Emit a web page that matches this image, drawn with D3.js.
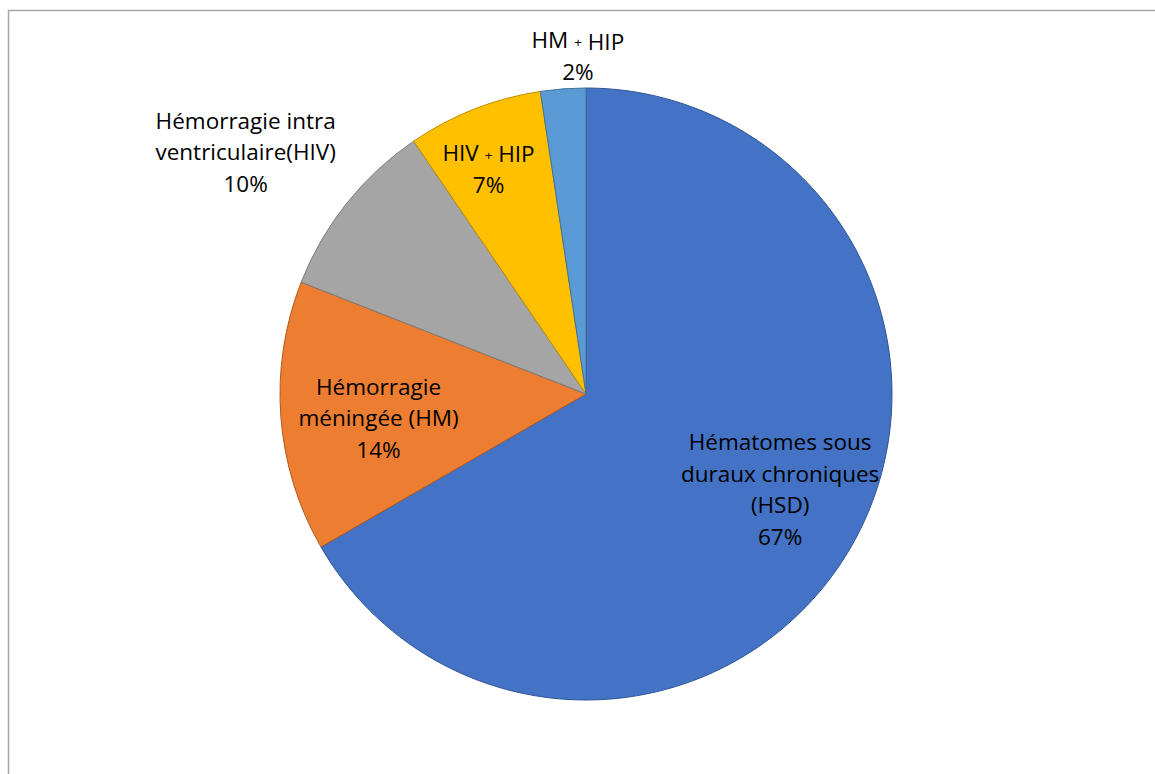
<!DOCTYPE html>
<html>
<head>
<meta charset="utf-8">
<script src="https://cdn.jsdelivr.net/npm/d3@7"></script>
<style>
  html, body { margin: 0; padding: 0; background: #fff; }
  svg { display: block; }
</style>
</head>
<body>
<svg id="chart" width="1155" height="774"></svg>
<script>
// Hemorrhage types (case counts)
const categories = [
  "Hématomes sous duraux chroniques (HSD)",
  "Hémorragie méningée (HM)",
  "Hémorragie intra ventriculaire(HIV)",
  "HIV + HIP",
  "HM + HIP"
];
const counts = [28, 6, 4, 3, 1];
// Label text, one array of lines per slice
const labelLines = [
  ["Hématomes sous", "duraux chroniques", "(HSD)"],
  ["Hémorragie", "méningée (HM)"],
  ["Hémorragie intra", "ventriculaire(HIV)"],
  ["HIV + HIP"],
  ["HM + HIP"]
];

const fills   = ["#4472C4", "#ED7D31", "#A5A5A5", "#FFC000", "#5B9BD5"];
const strokes = ["#2F5597", "#AE5A21", "#7B7B7B", "#BC8C00", "#41719C"];

// label placement: radius factor and pixel nudge per slice
const labelLayout = [
  { k: 0.71, dx: 6,   dy: -13 },
  { k: 0.68, dx: 0,   dy: 9 },
  { k: 1.36, dx: -15, dy: 18 },
  { k: 0.80, dx: -8,  dy: 3 },
  { k: 1.10, dx: 17,  dy: -2 }
];

const svg = d3.select("#chart");
const cx = 586, cy = 394, r = 306;

// chart frame (partly cut off by the page edges)
svg.append("rect")
  .attr("x", 8.5).attr("y", 10.5)
  .attr("width", 1300).attr("height", 900)
  .attr("fill", "none")
  .attr("stroke", "#A6A6A6")
  .attr("stroke-width", 1.5);

const total = d3.sum(counts);
const pie = d3.pie().sort(null).value(d => d);
const arcs = pie(counts);
const arc = d3.arc().innerRadius(0).outerRadius(r);

const g = svg.append("g").attr("transform", `translate(${cx},${cy})`);

g.selectAll("path.slice")
  .data(arcs)
  .join("path")
  .attr("class", "slice")
  .attr("d", arc)
  .attr("fill", (d, i) => fills[i])
  .attr("stroke", (d, i) => strokes[i])
  .attr("stroke-width", 1)
  .attr("stroke-linejoin", "round");

const fontSize = 22.5;
const lineH = 31.5;
const fmt = v => Math.round(v / total * 100) + "%";

arcs.forEach((d, i) => {
  const lay = labelLayout[i];
  const la = d3.arc().innerRadius(r * lay.k).outerRadius(r * lay.k);
  const [px, py] = la.centroid(d);
  const lines = labelLines[i].concat([fmt(d.value)]);
  const x = px + lay.dx;
  const top = py + lay.dy - (lines.length - 1) * lineH / 2;
  const t = g.append("text")
    .attr("text-anchor", "middle")
    .attr("font-family", "'Open Sans', sans-serif")
    .attr("font-size", fontSize)
    .attr("fill", "#000");
  lines.forEach((ln, j) => {
    const ts = t.append("tspan")
      .attr("x", x)
      .attr("y", top + j * lineH)
      .attr("dy", "0.35em");
    // the plus sign is set smaller than the surrounding text
    const parts = ln.split("+");
    if (parts.length > 1) {
      ts.append("tspan").text(parts[0]);
      ts.append("tspan").attr("font-size", fontSize * 0.6).attr("dy", "-0.12em").text("+");
      ts.append("tspan").attr("dy", "0.12em").text(parts[1]);
    } else {
      ts.text(ln);
    }
  });
});
</script>
</body>
</html>
